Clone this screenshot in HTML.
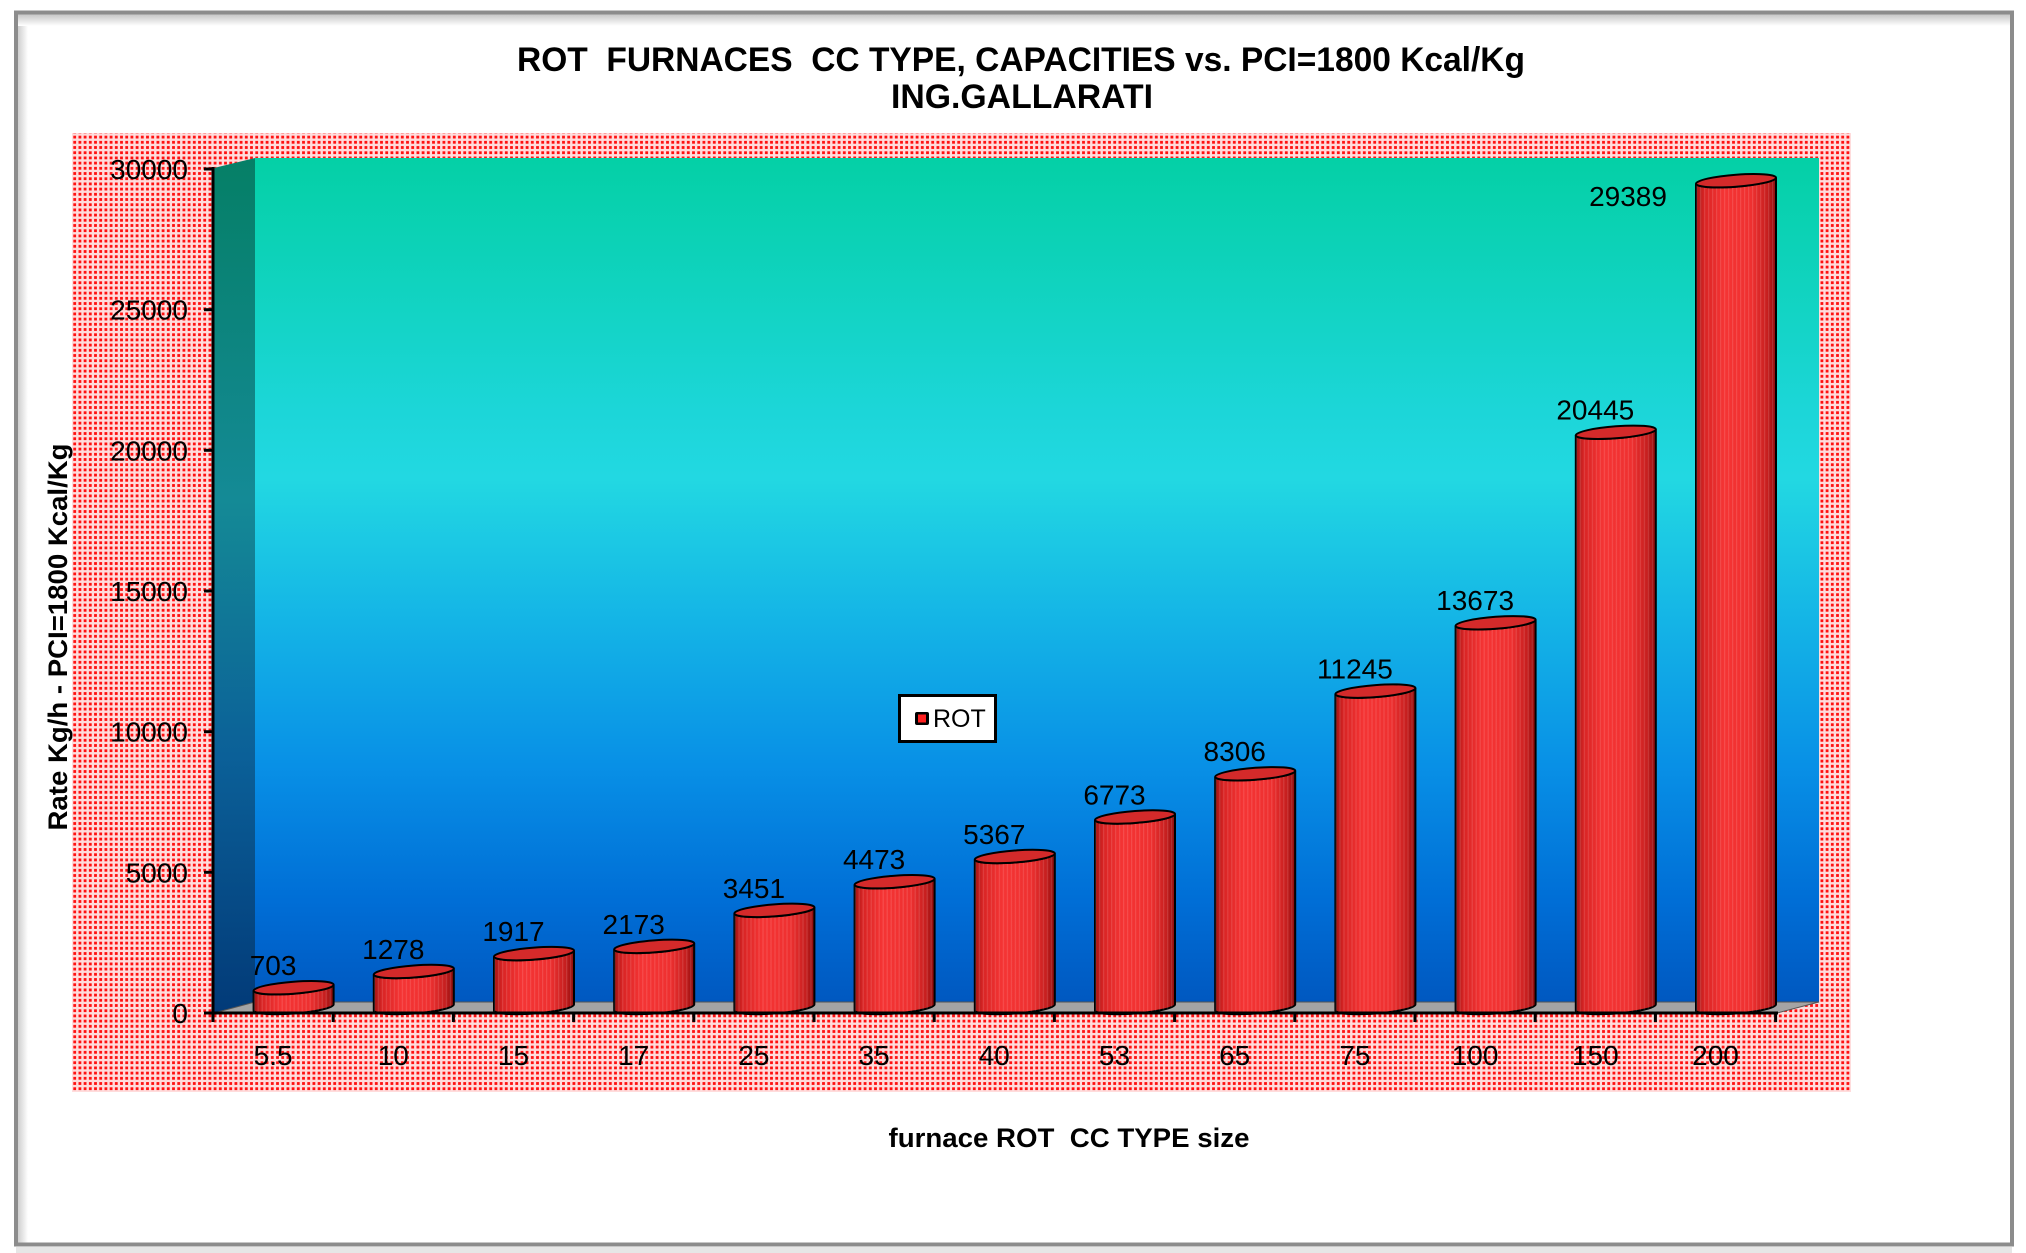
<!DOCTYPE html>
<html><head><meta charset="utf-8"><style>
html,body{margin:0;padding:0;background:#fff;}
svg{display:block;}
text{font-family:"Liberation Sans",Arial,sans-serif;}
</style></head><body>
<svg width="2026" height="1253" viewBox="0 0 2026 1253" xmlns="http://www.w3.org/2000/svg">
<defs>
  <pattern id="dots" patternUnits="userSpaceOnUse" width="5.2" height="5.2">
    <rect width="5.2" height="5.2" fill="#ffdcdc"/>
    <rect x="0.5" y="0.5" width="2.8" height="2.8" fill="#ff1010"/>
  </pattern>
  <pattern id="stripes" patternUnits="userSpaceOnUse" width="4" height="4">
    <rect width="4" height="4" fill="none"/>
    <rect x="0" y="0" width="1.2" height="4" fill="#ffffff" fill-opacity="0.12"/>
  </pattern>
  <linearGradient id="back" x1="0" y1="0" x2="0" y2="1">
    <stop offset="0" stop-color="#04d0a6"/>
    <stop offset="0.3" stop-color="#1cd6d8"/>
    <stop offset="0.38" stop-color="#22d8e2"/>
    <stop offset="0.55" stop-color="#14b4e6"/>
    <stop offset="0.72" stop-color="#0890e6"/>
    <stop offset="0.88" stop-color="#006ed6"/>
    <stop offset="1" stop-color="#0058c0"/>
  </linearGradient>
  <linearGradient id="left" x1="0" y1="0" x2="0" y2="1">
    <stop offset="0" stop-color="#057f66"/>
    <stop offset="0.4" stop-color="#148a96"/>
    <stop offset="0.7" stop-color="#0b6098"/>
    <stop offset="1" stop-color="#023a78"/>
  </linearGradient>
  <linearGradient id="cyl" x1="0" y1="0" x2="1" y2="0">
    <stop offset="0" stop-color="#a01414"/>
    <stop offset="0.1" stop-color="#d82424"/>
    <stop offset="0.35" stop-color="#f53434"/>
    <stop offset="0.7" stop-color="#ee3030"/>
    <stop offset="0.9" stop-color="#c41e1e"/>
    <stop offset="1" stop-color="#8a0c0c"/>
  </linearGradient>
  <linearGradient id="topsh" x1="0" y1="0" x2="0" y2="1">
    <stop offset="0" stop-color="#c4c4c4"/>
    <stop offset="1" stop-color="#ffffff"/>
  </linearGradient>
  <linearGradient id="leftsh" x1="0" y1="0" x2="1" y2="0">
    <stop offset="0" stop-color="#cfcfcf"/>
    <stop offset="1" stop-color="#ffffff"/>
  </linearGradient>
</defs>

<!-- outer frame -->
<rect x="18" y="14" width="10" height="1230" fill="url(#leftsh)"/>
<rect x="18" y="14" width="1993" height="12" fill="url(#topsh)"/>
<rect x="16" y="12.5" width="1996" height="1232" fill="none" stroke="#8c8c8c" stroke-width="4"/>
<rect x="16" y="1247" width="1996" height="6" fill="#e6e6e6"/>

<!-- title -->
<text x="1021" y="71" font-size="34" font-weight="bold" text-anchor="middle" textLength="1008" lengthAdjust="spacingAndGlyphs" xml:space="preserve">ROT  FURNACES  CC TYPE, CAPACITIES vs. PCI=1800 Kcal/Kg</text>
<text x="1022" y="108" font-size="34" font-weight="bold" text-anchor="middle" textLength="262" lengthAdjust="spacingAndGlyphs">ING.GALLARATI</text>

<!-- plot area pattern -->
<rect x="72" y="133" width="1779" height="959" fill="url(#dots)"/>

<!-- walls -->
<rect x="255" y="158" width="1564" height="844" fill="url(#back)"/>
<polygon points="214,168 255,158 255,1002 214,1013" fill="url(#left)"/>
<polygon points="214,1013 1777,1013 1819,1002 255,1002" fill="#a4a4a4" stroke="#555" stroke-width="1"/>

<!-- cylinders -->
<g stroke="#000" stroke-width="2">
<g transform="translate(293.6,0) skewY(-4.3)"><path d="M-40,987.7 L-40,1007.5 A40 6 0 0 0 40,1007.5 L40,987.7 A40 6 0 0 1 -40,987.7 Z" fill="url(#cyl)"/><path d="M-40,987.7 L-40,1007.5 A40 6 0 0 0 40,1007.5 L40,987.7 A40 6 0 0 1 -40,987.7 Z" fill="url(#stripes)" stroke="none"/><ellipse cx="0" cy="987.7" rx="40" ry="6" fill="#d42a2a"/></g>
<g transform="translate(413.8,0) skewY(-4.3)"><path d="M-40,971.5 L-40,1007.5 A40 6 0 0 0 40,1007.5 L40,971.5 A40 6 0 0 1 -40,971.5 Z" fill="url(#cyl)"/><path d="M-40,971.5 L-40,1007.5 A40 6 0 0 0 40,1007.5 L40,971.5 A40 6 0 0 1 -40,971.5 Z" fill="url(#stripes)" stroke="none"/><ellipse cx="0" cy="971.5" rx="40" ry="6" fill="#d42a2a"/></g>
<g transform="translate(534.0,0) skewY(-4.3)"><path d="M-40,953.6 L-40,1007.5 A40 6 0 0 0 40,1007.5 L40,953.6 A40 6 0 0 1 -40,953.6 Z" fill="url(#cyl)"/><path d="M-40,953.6 L-40,1007.5 A40 6 0 0 0 40,1007.5 L40,953.6 A40 6 0 0 1 -40,953.6 Z" fill="url(#stripes)" stroke="none"/><ellipse cx="0" cy="953.6" rx="40" ry="6" fill="#d42a2a"/></g>
<g transform="translate(654.2,0) skewY(-4.3)"><path d="M-40,946.4 L-40,1007.5 A40 6 0 0 0 40,1007.5 L40,946.4 A40 6 0 0 1 -40,946.4 Z" fill="url(#cyl)"/><path d="M-40,946.4 L-40,1007.5 A40 6 0 0 0 40,1007.5 L40,946.4 A40 6 0 0 1 -40,946.4 Z" fill="url(#stripes)" stroke="none"/><ellipse cx="0" cy="946.4" rx="40" ry="6" fill="#d42a2a"/></g>
<g transform="translate(774.4,0) skewY(-4.3)"><path d="M-40,910.4 L-40,1007.5 A40 6 0 0 0 40,1007.5 L40,910.4 A40 6 0 0 1 -40,910.4 Z" fill="url(#cyl)"/><path d="M-40,910.4 L-40,1007.5 A40 6 0 0 0 40,1007.5 L40,910.4 A40 6 0 0 1 -40,910.4 Z" fill="url(#stripes)" stroke="none"/><ellipse cx="0" cy="910.4" rx="40" ry="6" fill="#d42a2a"/></g>
<g transform="translate(894.6,0) skewY(-4.3)"><path d="M-40,881.7 L-40,1007.5 A40 6 0 0 0 40,1007.5 L40,881.7 A40 6 0 0 1 -40,881.7 Z" fill="url(#cyl)"/><path d="M-40,881.7 L-40,1007.5 A40 6 0 0 0 40,1007.5 L40,881.7 A40 6 0 0 1 -40,881.7 Z" fill="url(#stripes)" stroke="none"/><ellipse cx="0" cy="881.7" rx="40" ry="6" fill="#d42a2a"/></g>
<g transform="translate(1014.8,0) skewY(-4.3)"><path d="M-40,856.5 L-40,1007.5 A40 6 0 0 0 40,1007.5 L40,856.5 A40 6 0 0 1 -40,856.5 Z" fill="url(#cyl)"/><path d="M-40,856.5 L-40,1007.5 A40 6 0 0 0 40,1007.5 L40,856.5 A40 6 0 0 1 -40,856.5 Z" fill="url(#stripes)" stroke="none"/><ellipse cx="0" cy="856.5" rx="40" ry="6" fill="#d42a2a"/></g>
<g transform="translate(1135.0,0) skewY(-4.3)"><path d="M-40,817.0 L-40,1007.5 A40 6 0 0 0 40,1007.5 L40,817.0 A40 6 0 0 1 -40,817.0 Z" fill="url(#cyl)"/><path d="M-40,817.0 L-40,1007.5 A40 6 0 0 0 40,1007.5 L40,817.0 A40 6 0 0 1 -40,817.0 Z" fill="url(#stripes)" stroke="none"/><ellipse cx="0" cy="817.0" rx="40" ry="6" fill="#d42a2a"/></g>
<g transform="translate(1255.2,0) skewY(-4.3)"><path d="M-40,773.8 L-40,1007.5 A40 6 0 0 0 40,1007.5 L40,773.8 A40 6 0 0 1 -40,773.8 Z" fill="url(#cyl)"/><path d="M-40,773.8 L-40,1007.5 A40 6 0 0 0 40,1007.5 L40,773.8 A40 6 0 0 1 -40,773.8 Z" fill="url(#stripes)" stroke="none"/><ellipse cx="0" cy="773.8" rx="40" ry="6" fill="#d42a2a"/></g>
<g transform="translate(1375.4,0) skewY(-4.3)"><path d="M-40,691.1 L-40,1007.5 A40 6 0 0 0 40,1007.5 L40,691.1 A40 6 0 0 1 -40,691.1 Z" fill="url(#cyl)"/><path d="M-40,691.1 L-40,1007.5 A40 6 0 0 0 40,1007.5 L40,691.1 A40 6 0 0 1 -40,691.1 Z" fill="url(#stripes)" stroke="none"/><ellipse cx="0" cy="691.1" rx="40" ry="6" fill="#d42a2a"/></g>
<g transform="translate(1495.6,0) skewY(-4.3)"><path d="M-40,622.8 L-40,1007.5 A40 6 0 0 0 40,1007.5 L40,622.8 A40 6 0 0 1 -40,622.8 Z" fill="url(#cyl)"/><path d="M-40,622.8 L-40,1007.5 A40 6 0 0 0 40,1007.5 L40,622.8 A40 6 0 0 1 -40,622.8 Z" fill="url(#stripes)" stroke="none"/><ellipse cx="0" cy="622.8" rx="40" ry="6" fill="#d42a2a"/></g>
<g transform="translate(1615.8,0) skewY(-4.3)"><path d="M-40,432.3 L-40,1007.5 A40 6 0 0 0 40,1007.5 L40,432.3 A40 6 0 0 1 -40,432.3 Z" fill="url(#cyl)"/><path d="M-40,432.3 L-40,1007.5 A40 6 0 0 0 40,1007.5 L40,432.3 A40 6 0 0 1 -40,432.3 Z" fill="url(#stripes)" stroke="none"/><ellipse cx="0" cy="432.3" rx="40" ry="6" fill="#d42a2a"/></g>
<g transform="translate(1736.0,0) skewY(-4.3)"><path d="M-40,180.7 L-40,1007.5 A40 6 0 0 0 40,1007.5 L40,180.7 A40 6 0 0 1 -40,180.7 Z" fill="url(#cyl)"/><path d="M-40,180.7 L-40,1007.5 A40 6 0 0 0 40,1007.5 L40,180.7 A40 6 0 0 1 -40,180.7 Z" fill="url(#stripes)" stroke="none"/><ellipse cx="0" cy="180.7" rx="40" ry="6" fill="#d42a2a"/></g>
</g>

<!-- axes -->
<g stroke="#000" stroke-width="3">
  <line x1="213" y1="167" x2="213" y2="1014.5"/>
  <line x1="212" y1="1013" x2="1778" y2="1013"/>
  <line x1="204" y1="169" x2="213" y2="169"/>
  <line x1="204" y1="309.7" x2="213" y2="309.7"/>
  <line x1="204" y1="450.3" x2="213" y2="450.3"/>
  <line x1="204" y1="591" x2="213" y2="591"/>
  <line x1="204" y1="731.7" x2="213" y2="731.7"/>
  <line x1="204" y1="872.3" x2="213" y2="872.3"/>
  <line x1="204" y1="1013" x2="213" y2="1013"/>
  <line x1="213" y1="1013" x2="213" y2="1022"/>
  <line x1="333.2" y1="1013" x2="333.2" y2="1022"/>
  <line x1="453.4" y1="1013" x2="453.4" y2="1022"/>
  <line x1="573.6" y1="1013" x2="573.6" y2="1022"/>
  <line x1="693.8" y1="1013" x2="693.8" y2="1022"/>
  <line x1="814" y1="1013" x2="814" y2="1022"/>
  <line x1="934.2" y1="1013" x2="934.2" y2="1022"/>
  <line x1="1054.4" y1="1013" x2="1054.4" y2="1022"/>
  <line x1="1174.6" y1="1013" x2="1174.6" y2="1022"/>
  <line x1="1294.8" y1="1013" x2="1294.8" y2="1022"/>
  <line x1="1415" y1="1013" x2="1415" y2="1022"/>
  <line x1="1535.2" y1="1013" x2="1535.2" y2="1022"/>
  <line x1="1655.4" y1="1013" x2="1655.4" y2="1022"/>
  <line x1="1775.6" y1="1013" x2="1775.6" y2="1022"/>
</g>

<!-- y tick labels -->
<g font-size="28" text-anchor="end" fill="#000">
  <text x="188" y="179">30000</text>
  <text x="188" y="319.7">25000</text>
  <text x="188" y="460.3">20000</text>
  <text x="188" y="601">15000</text>
  <text x="188" y="741.7">10000</text>
  <text x="188" y="882.3">5000</text>
  <text x="188" y="1023">0</text>
</g>

<!-- x tick labels -->
<g font-size="28" text-anchor="middle" fill="#000">
  <text x="273.1" y="1065">5.5</text>
  <text x="393.3" y="1065">10</text>
  <text x="513.5" y="1065">15</text>
  <text x="633.7" y="1065">17</text>
  <text x="753.9" y="1065">25</text>
  <text x="874.1" y="1065">35</text>
  <text x="994.3" y="1065">40</text>
  <text x="1114.5" y="1065">53</text>
  <text x="1234.7" y="1065">65</text>
  <text x="1354.9" y="1065">75</text>
  <text x="1475.1" y="1065">100</text>
  <text x="1595.3" y="1065">150</text>
  <text x="1715.5" y="1065">200</text>
</g>

<!-- value labels -->
<g font-size="28" text-anchor="middle" fill="#000">
  <text x="273.1" y="975">703</text>
  <text x="393.3" y="959">1278</text>
  <text x="513.5" y="941">1917</text>
  <text x="633.7" y="934">2173</text>
  <text x="753.9" y="898">3451</text>
  <text x="874.1" y="869">4473</text>
  <text x="994.3" y="844">5367</text>
  <text x="1114.5" y="804.5">6773</text>
  <text x="1234.7" y="761">8306</text>
  <text x="1354.9" y="678.5">11245</text>
  <text x="1475.1" y="610">13673</text>
  <text x="1595.3" y="419.5">20445</text>
  <text x="1628" y="206">29389</text>
</g>

<!-- legend -->
<rect x="899.5" y="695.5" width="96" height="46" fill="#fff" stroke="#000" stroke-width="3"/>
<rect x="915" y="712" width="14" height="13" rx="2" fill="#000"/>
<rect x="918" y="714.5" width="8" height="8" fill="#ff2020"/>
<text x="933" y="727" font-size="25" fill="#000">ROT</text>

<!-- axis titles -->
<text transform="translate(67,637) rotate(-90)" font-size="27" font-weight="bold" text-anchor="middle" textLength="387" lengthAdjust="spacingAndGlyphs">Rate Kg/h - PCI=1800 Kcal/Kg</text>
<text x="1069" y="1147" font-size="27" font-weight="bold" text-anchor="middle" textLength="361" lengthAdjust="spacingAndGlyphs" xml:space="preserve">furnace ROT  CC TYPE size</text>
</svg>
</body></html>
